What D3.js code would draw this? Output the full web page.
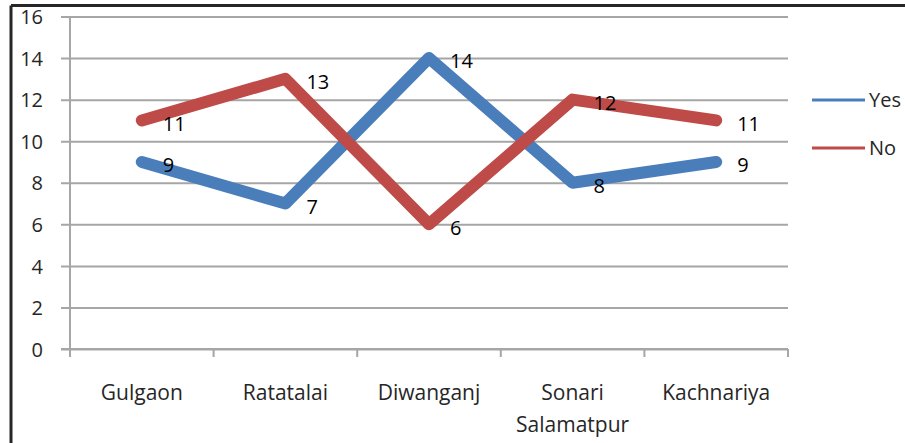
<!DOCTYPE html>
<html>
<head>
<meta charset="utf-8">
<script src="https://cdn.jsdelivr.net/npm/d3@7"></script>
<style>
  html, body { margin: 0; padding: 0; background: #fff; }
  svg { display: block; font-family: "Open Sans", "Noto Sans", sans-serif; }
</style>
</head>
<body>
<svg id="chart" width="905" height="443"></svg>
<script>
// Villages along the category axis
const categories = ["Gulgaon", "Ratatalai", "Diwanganj", "Sonari Salamatpur", "Kachnariya"];
// Responses per village
const yesValues = [9, 7, 14, 8, 9];
const noValues = [11, 13, 6, 12, 11];
const seriesNames = ["Yes", "No"];
const yTicks = [0, 2, 4, 6, 8, 10, 12, 14, 16];

const colors = { Yes: "#4A7EBB", No: "#BE4B48" };
const series = [
  { name: seriesNames[0], values: yesValues },
  { name: seriesNames[1], values: noValues }
];

const svg = d3.select("#chart");
const plotLeft = 70, plotRight = 788, plotTop = 16.5, plotBottom = 349;

const x = d3.scaleBand().domain(categories).range([plotLeft, plotRight]).padding(0);
const y = d3.scaleLinear().domain([0, 16]).range([plotBottom, plotTop]);
const cx = c => x(c) + x.bandwidth() / 2;

// Outer frame (top and left edges)
svg.append("line").attr("x1", 11).attr("x2", 905).attr("y1", 5.5).attr("y2", 5.5)
  .attr("stroke", "#262626").attr("stroke-width", 3);
svg.append("line").attr("x1", 11).attr("x2", 11).attr("y1", 5.5).attr("y2", 443)
  .attr("stroke", "#262626").attr("stroke-width", 3);

// Horizontal gridlines with left tick stubs
const yAxis = d3.axisLeft(y).tickValues(yTicks).tickSize(-(plotRight - plotLeft)).tickSizeOuter(0).tickPadding(27);
const gy = svg.append("g").attr("transform", `translate(${plotLeft},0)`).call(yAxis);
gy.select(".domain").remove();
gy.selectAll(".tick line").attr("x1", -9).attr("stroke", "#A6A6A6").attr("stroke-width", 2);
gy.selectAll(".tick text").attr("font-size", 20).attr("fill", "#262626")
  .attr("font-family", "Open Sans, sans-serif").attr("dy", "0.36em");

// Vertical value axis line
svg.append("line").attr("x1", plotLeft).attr("x2", plotLeft).attr("y1", plotTop).attr("y2", plotBottom + 8)
  .attr("stroke", "#A6A6A6").attr("stroke-width", 2);

// Category axis with ticks between categories
const boundaries = categories.map(c => x(c)).concat([plotRight]);
svg.append("line").attr("x1", plotLeft - 9).attr("x2", plotRight).attr("y1", plotBottom).attr("y2", plotBottom)
  .attr("stroke", "#A6A6A6").attr("stroke-width", 2);
svg.append("g").selectAll("line").data(boundaries).join("line")
  .attr("x1", d => d).attr("x2", d => d).attr("y1", plotBottom).attr("y2", plotBottom + 8)
  .attr("stroke", "#A6A6A6").attr("stroke-width", 2);

// Category labels, wrapped on spaces for long names
const xl = svg.append("g").selectAll("text").data(categories).join("text")
  .attr("x", d => cx(d)).attr("y", 400)
  .attr("text-anchor", "middle").attr("font-size", 21).attr("fill", "#262626");
xl.each(function (d) {
  const words = d.length > 12 ? d.split(" ") : [d];
  d3.select(this).selectAll("tspan").data(words).join("tspan")
    .attr("x", cx(d)).attr("dy", (w, i) => i === 0 ? 0 : 32).text(w => w);
});

// Series lines
const line = d3.line().x((v, i) => cx(categories[i])).y(v => y(v));
series.forEach(s => {
  svg.append("path").datum(s.values).attr("d", line)
    .attr("fill", "none").attr("stroke", colors[s.name]).attr("stroke-width", 12)
    .attr("stroke-linejoin", "round").attr("stroke-linecap", "round");
});

// Value labels to the right of each point
series.forEach(s => {
  svg.append("g").selectAll("text").data(s.values).join("text")
    .attr("x", (v, i) => cx(categories[i]) + 21)
    .attr("y", v => y(v) + 3)
    .attr("dy", "0.36em").attr("font-size", 20).attr("fill", "#000")
    .text(v => v);
});

// Legend
const legend = svg.append("g").selectAll("g").data(series).join("g")
  .attr("transform", (d, i) => `translate(812,${100 + i * 48})`);
legend.append("line").attr("x1", 0).attr("x2", 53)
  .attr("stroke", d => colors[d.name]).attr("stroke-width", 3);
legend.append("text").attr("x", 57).attr("dy", "0.36em").attr("font-size", 20)
  .attr("fill", "#262626").text(d => d.name);
</script>
</body>
</html>
